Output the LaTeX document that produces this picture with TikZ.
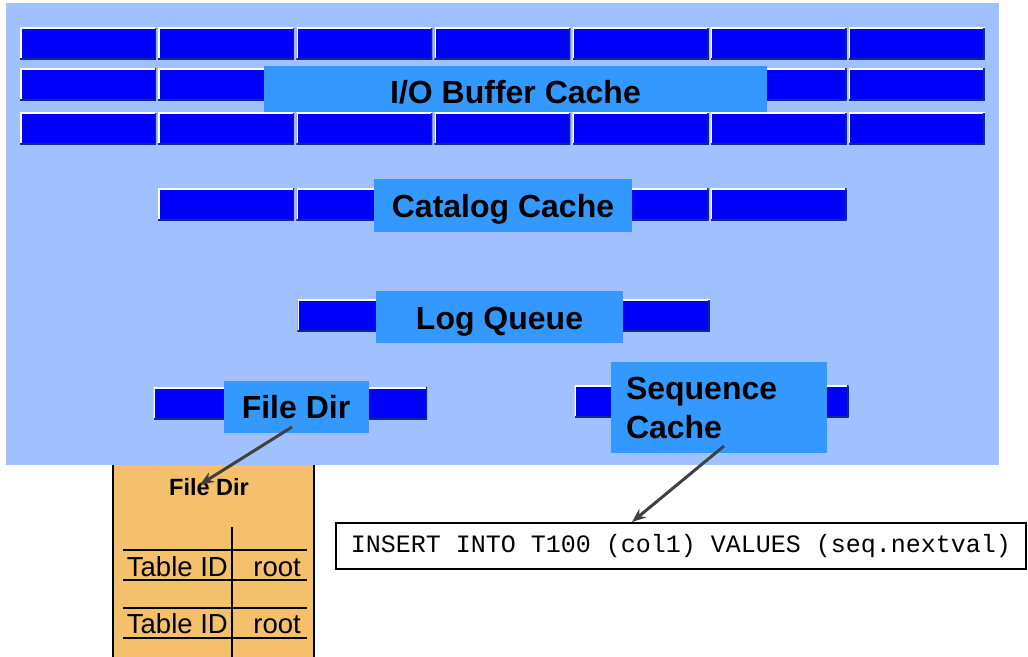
\documentclass[tikz,border=0pt]{standalone}
\usepackage{fontspec}
\setmainfont{Liberation Sans}
\setmonofont{Liberation Mono}
\usetikzlibrary{arrows.meta}
\definecolor{panel}{RGB}{160,192,255}
\definecolor{lblblue}{RGB}{51,153,255}
\definecolor{barblue}{RGB}{0,0,255}
\definecolor{bardark}{RGB}{16,40,140}
\definecolor{dirfill}{RGB}{244,192,108}
\definecolor{ptrgray}{RGB}{64,64,64}
\tikzset{
  blk/.style={fill=barblue, minimum width=136pt, minimum height=32pt, inner sep=0pt, outer sep=0pt,
    path picture={
      \draw[white, line width=3pt] (path picture bounding box.south west) -- (path picture bounding box.north west) -- (path picture bounding box.north east);
      \draw[bardark, line width=3pt] (path picture bounding box.north east) -- (path picture bounding box.south east) -- (path picture bounding box.south west);}},
  lbl/.style={fill=lblblue, inner sep=0pt, outer sep=0pt, font=\fontsize{32}{39}\selectfont\bfseries},
  oneline/.style={text height=#1, text depth=0pt},
  oneline/.default=23pt,
  cell/.style={inner sep=0pt, font=\fontsize{27.5}{33}\selectfont},
  ptr/.style={ptrgray, line width=3pt, -{Stealth[length=14pt,width=11pt]}},
}
\begin{document}
\begin{tikzpicture}[x=1pt,y=-1pt]
    \useasboundingbox (0,0) rectangle (1028,656);
    % File Dir table
    \draw[fill=dirfill, line width=2pt] (113,440) rectangle (314,670);
    \node[font=\fontsize{23.5}{28}\selectfont\bfseries, inner sep=0pt, anchor=base] (dirtitle) at (209,495) {File Dir};
    \draw[line width=1.5pt] (232,527) -- (232,660);
    \foreach \y in {550,580,608,638}
        \draw[line width=1.5pt] (123,\y) -- (307,\y);
    \node[cell, anchor=base east] (tid1) at (228,576) {Table ID};
    \node[cell, anchor=base east] (root1) at (301,576) {root};
    \node[cell, anchor=base east] (tid2) at (228,633) {Table ID};
    \node[cell, anchor=base east] (root2) at (301,633) {root};
    % SGA
    \fill[panel] (6,3) rectangle (999,465);
    % Buffer
    \foreach \y [count=\r] in {43.5,84,128.5}
        \foreach \i in {0,...,6}
            \node[blk] (buf-\r-\i) at ({88+138.14*\i},\y) {};
    \foreach \i in {1,...,5}
        \node[blk] (cat-\i) at ({88+138.14*\i},204) {};
    \foreach \i in {2,...,4}
        \node[blk] (log-\i) at ({89+138.14*\i},315.5) {};
    \node[blk] (dir-1) at (221.5,403) {};
    \node[blk] (dir-2) at (359,403) {};
    \node[blk] (seq-1) at (642.5,401) {};
    \node[blk] (seq-2) at (780.5,401) {};
    % Etichette
    \node[lbl, oneline=29pt, minimum width=503pt, minimum height=46pt] (iobuf) at (515.5,89) {I/O Buffer Cache};
    \node[lbl, oneline, minimum width=258pt, minimum height=53pt] (catalog) at (503,205.5) {Catalog Cache};
    \node[lbl, oneline=25pt, minimum width=247pt, minimum height=52pt] (logq) at (499.5,317) {Log Queue};
    \node[lbl, oneline, minimum width=145pt, minimum height=52pt] (filedir) at (296,407) {File Dir};
    \node[lbl, text width=186pt, inner xsep=15pt, minimum height=91pt, align=left] (seqcache) at (719,407.5) {Sequence\\Cache};
    % Statement
    \node[draw, line width=2pt, fill=white, minimum width=690pt, minimum height=46pt, inner sep=0pt,
        font=\fontsize{25}{30}\selectfont\ttfamily] (insert) at (681,546) {INSERT INTO T100 (col1) VALUES (seq.nextval)};
    % Frecce
    \draw[ptr] ([xshift=-4pt,yshift=6pt]filedir.south) -- ([xshift=-9pt,yshift=2pt]dirtitle.center);
    \draw[ptr] ([xshift=5pt,yshift=7pt]seqcache.south) -- ([xshift=-49pt]insert.north);
\end{tikzpicture}
\end{document}
